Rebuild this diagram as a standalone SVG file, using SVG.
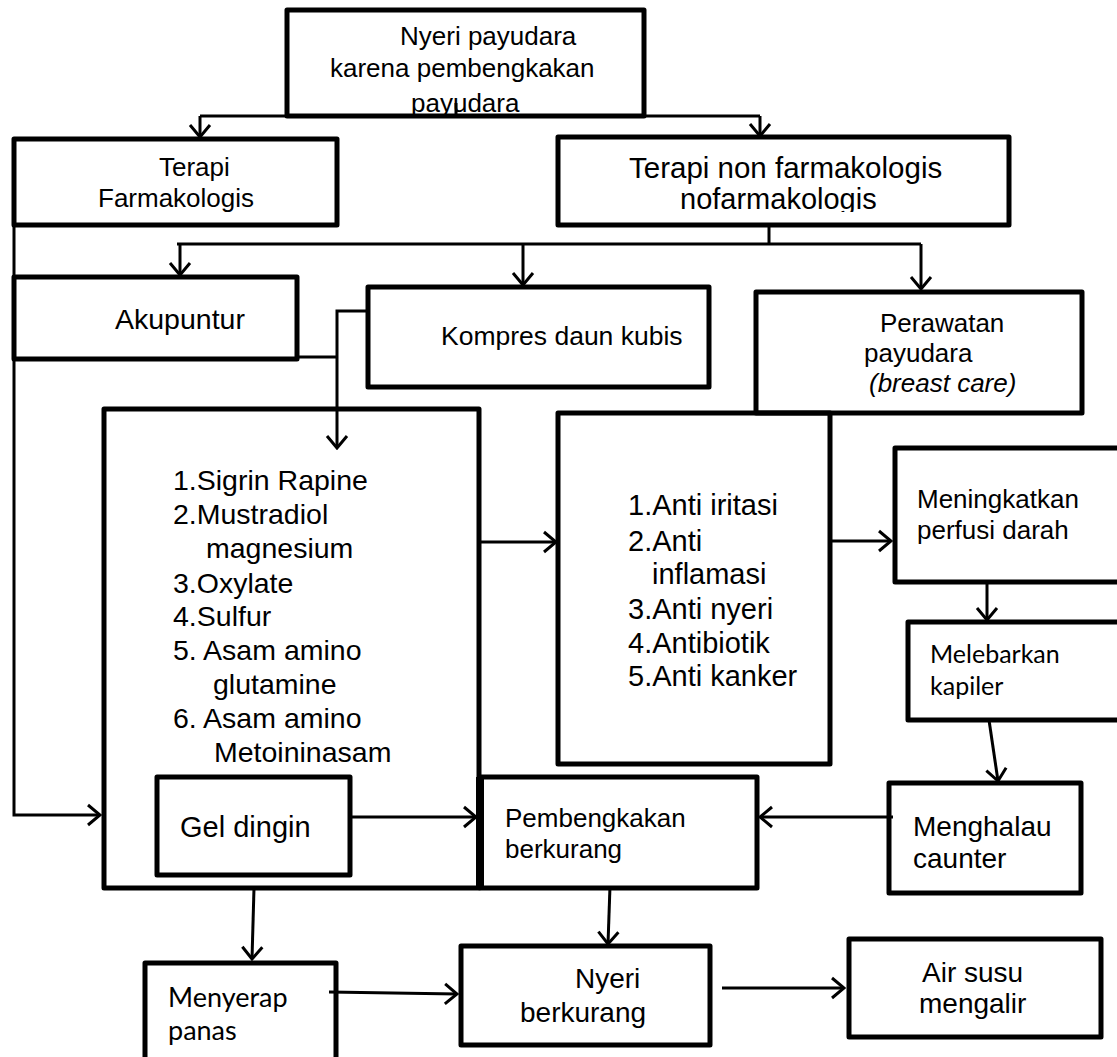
<svg xmlns="http://www.w3.org/2000/svg" width="1117" height="1057" viewBox="0 0 1117 1057">
<style>
.box{fill:none;stroke:#000;stroke-width:5;stroke-linejoin:round}
.t{font-family:"Liberation Sans",Arial,sans-serif;font-size:26px;fill:#000}
.c{font-family:Lato,"Liberation Sans",sans-serif;fill:#000}
.ln{fill:none;stroke:#000;stroke-width:3}
.ar{fill:none;stroke:#000;stroke-width:3;marker-end:url(#ah)}
</style>
<defs>
<marker id="ah" viewBox="-14 -12 16 24" refX="0" refY="0" markerWidth="16" markerHeight="24" markerUnits="userSpaceOnUse" orient="auto">
<path d="M-12,-10 L0,0 L-12,10" fill="none" stroke="#000" stroke-width="3"/>
</marker>
<clipPath id="clipNon"><rect x="560" y="139" width="448" height="73"/></clipPath>
</defs>
<rect width="1117" height="1057" fill="#fff"/>

<g id="connectors">
<line class="ln" x1="456" y1="103" x2="456" y2="116"/>
<line class="ln" x1="200" y1="116" x2="760" y2="116"/>
<line class="ar" x1="200" y1="116" x2="200" y2="137"/>
<line class="ar" x1="760" y1="116" x2="760" y2="136"/>
<polyline class="ar" points="14,225 14,815 100,815"/>
<line class="ln" x1="769" y1="225" x2="769" y2="244"/>
<line class="ln" x1="177" y1="244" x2="921" y2="244"/>
<line class="ar" x1="180" y1="244" x2="180" y2="275"/>
<line class="ar" x1="523" y1="244" x2="523" y2="285"/>
<line class="ar" x1="921" y1="244" x2="921" y2="289"/>
<polyline class="ar" points="368,311 337,311 337,448"/>
<line class="ln" x1="297" y1="357" x2="337" y2="357"/>
<line class="ar" x1="478" y1="542" x2="556" y2="542"/>
<line class="ar" x1="830" y1="541" x2="891" y2="541"/>
<line class="ar" x1="987" y1="582" x2="987" y2="620"/>
<line class="ar" x1="989" y1="720" x2="998" y2="781"/>
<line class="ar" x1="893" y1="817" x2="760" y2="817"/>
<line class="ar" x1="350" y1="817" x2="476" y2="817"/>
<line class="ar" x1="254" y1="888" x2="252" y2="959"/>
<line class="ar" x1="329" y1="992" x2="457" y2="994"/>
<line class="ar" x1="610" y1="886" x2="608" y2="944"/>
<line class="ar" x1="722" y1="988" x2="844" y2="988"/>
</g>

<g id="n-top">
<text class="t" x="400" y="45">Nyeri payudara</text>
<text class="t" x="330" y="77">karena pembengkakan</text>
<text class="t" x="411" y="112">payudara</text>
<rect class="box" x="287" y="10" width="357" height="106"/>
</g>

<g id="n-farmakologis">
<rect class="box" x="14" y="139" width="323" height="86"/>
<text class="t" x="159" y="176">Terapi</text>
<text class="t" x="98" y="207">Farmakologis</text>
</g>

<g id="n-nonfarmakologis">
<rect class="box" x="558" y="137" width="451" height="88"/>
<g clip-path="url(#clipNon)">
<text class="t" x="629" y="178" style="font-size:29.5px">Terapi non farmakologis</text>
<text class="t" x="680" y="209" style="font-size:29px">nofarmakologis</text>
</g>
</g>

<g id="n-akupuntur">
<rect class="box" x="14" y="277" width="283" height="82"/>
<text class="t" x="115" y="329" style="font-size:28.5px">Akupuntur</text>
</g>

<g id="n-kompres">
<rect class="box" x="368" y="287" width="341" height="100"/>
<text class="t" x="441" y="345" style="font-size:26.5px">Kompres daun kubis</text>
</g>

<g id="n-perawatan">
<rect class="box" x="756" y="292" width="326" height="121"/>
<text class="t" x="880" y="332">Perawatan</text>
<text class="t" x="864" y="362">payudara</text>
<text class="t" x="869" y="392" font-style="italic">(breast care)</text>
</g>

<g id="n-kandungan">
<rect class="box" x="104" y="409" width="375" height="479"/>
<text class="t" style="font-size:28.5px">
<tspan x="173" y="490">1.Sigrin Rapine</tspan>
<tspan x="173" y="524">2.Mustradiol</tspan>
<tspan x="206" y="558">magnesium</tspan>
<tspan x="173" y="593">3.Oxylate</tspan>
<tspan x="173" y="626">4.Sulfur</tspan>
<tspan x="173" y="660">5. Asam amino</tspan>
<tspan x="213" y="694">glutamine</tspan>
<tspan x="173" y="728">6. Asam amino</tspan>
<tspan x="214" y="762">Metoininasam</tspan>
</text>
</g>

<g id="n-gel">
<rect class="box" x="157" y="777" width="193" height="98"/>
<text class="t" x="180" y="837" style="font-size:29px">Gel dingin</text>
</g>

<g id="n-anti">
<rect class="box" x="558" y="413" width="272" height="351"/>
<text class="t" style="font-size:29px">
<tspan x="628" y="515">1.Anti iritasi</tspan>
<tspan x="628" y="551">2.Anti</tspan>
<tspan x="652" y="584">inflamasi</tspan>
<tspan x="628" y="619">3.Anti nyeri</tspan>
<tspan x="628" y="653">4.Antibiotik</tspan>
<tspan x="628" y="686">5.Anti kanker</tspan>
</text>
</g>

<g id="n-perfusi">
<rect class="box" x="895" y="448" width="240" height="134"/>
<text class="t" x="917" y="508">Meningkatkan</text>
<text class="t" x="917" y="539">perfusi darah</text>
</g>

<g id="n-kapiler">
<rect class="box" x="908" y="622" width="230" height="98"/>
<text class="c" x="930" y="663" font-size="25">Melebarkan</text>
<text class="c" x="930" y="695" font-size="25">kapiler</text>
</g>

<g id="n-menghalau">
<rect class="box" x="889" y="783" width="192" height="110"/>
<text class="t" x="913" y="836" style="font-size:28px">Menghalau</text>
<text class="t" x="913" y="868" style="font-size:28px">caunter</text>
</g>

<g id="n-pembengkakan">
<rect class="box" x="480" y="777" width="277" height="111"/>
<line x1="480" y1="777" x2="480" y2="888" stroke="#000" stroke-width="8"/>
<text class="t" x="505" y="827">Pembengkakan</text>
<text class="t" x="505" y="858">berkurang</text>
</g>

<g id="n-menyerap">
<rect class="box" x="145" y="963" width="191" height="120"/>
<text class="c" x="168" y="1007" font-size="27">Menyerap</text>
<text class="c" x="168" y="1040" font-size="27">panas</text>
</g>

<g id="n-nyeri">
<rect class="box" x="461" y="946" width="249" height="99"/>
<text class="t" x="575" y="988" style="font-size:28px">Nyeri</text>
<text class="t" x="520" y="1022" style="font-size:28px">berkurang</text>
</g>

<g id="n-air">
<rect class="box" x="849" y="939" width="252" height="98"/>
<text class="t" x="922" y="982" style="font-size:28px">Air susu</text>
<text class="t" x="919" y="1013" style="font-size:28px">mengalir</text>
</g>
</svg>
